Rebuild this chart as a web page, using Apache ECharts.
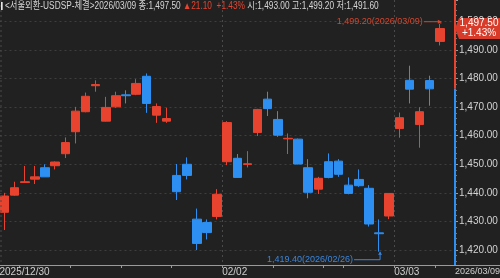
<!DOCTYPE html>
<html><head><meta charset="utf-8">
<script src="https://cdn.jsdelivr.net/npm/echarts@6/dist/echarts.min.js"></script>
<style>html,body{margin:0;padding:0;background:#212121;}#c{width:500px;height:278px;}</style>
</head><body><div id="c"></div>
<script>
// ---- data ----
const title = '<서울외환-USDSP-체결>';
const dates = ['2025/12/30','2026/01/02','2026/01/05','2026/01/06','2026/01/07','2026/01/08','2026/01/09',
 '2026/01/12','2026/01/13','2026/01/14','2026/01/15','2026/01/16','2026/01/19','2026/01/20','2026/01/21',
 '2026/01/22','2026/01/23','2026/01/26','2026/01/27','2026/01/28','2026/01/29','2026/01/30','2026/02/02',
 '2026/02/03','2026/02/04','2026/02/05','2026/02/06','2026/02/09','2026/02/10','2026/02/11','2026/02/12',
 '2026/02/13','2026/02/19','2026/02/20','2026/02/23','2026/02/24','2026/02/25','2026/02/26','2026/02/27',
 '2026/03/03','2026/03/04','2026/03/05','2026/03/06','2026/03/09'];
const opens  = [1433.2,1439.2,1443.6,1444.8,1448.8,1449.5,1453.7,1461.4,1468.4,1477.5,1465.1,1470.1,1474.3,1474.5,1480.8,1467.2,1465.1,1446.1,1450.0,1430.8,1429.6,1431.7,1450.9,1452.1,1449.9,1461.1,1472.8,1465.7,1458.9,1458.8,1448.8,1441.3,1450.9,1451.1,1442.7,1444.7,1441.6,1426.0,1431.9,1462.5,1479.4,1463.9,1479.3,1493.0];
const closes = [1438.9,1441.8,1443.9,1445.6,1445.6,1450.8,1457.6,1468.6,1473.8,1477.9,1469.9,1474.0,1474.0,1478.3,1471.3,1470.2,1466.0,1440.4,1446.1,1422.3,1426.1,1439.5,1464.6,1445.4,1450.2,1469.2,1469.5,1460.2,1459.1,1450.1,1440.2,1445.1,1445.4,1446.5,1439.8,1442.5,1429.1,1425.7,1439.8,1466.3,1476.3,1468.4,1476.4,1497.5];
const lows   = [1427.0,1439.0,1443.5,1443.1,1445.6,1448.2,1452.2,1457.3,1468.2,1475.4,1465.0,1469.8,1471.3,1474.2,1468.0,1464.5,1464.5,1437.5,1444.7,1420.0,1423.7,1430.7,1449.7,1445.2,1448.9,1459.9,1466.9,1459.6,1453.6,1450.0,1438.1,1439.6,1445.1,1445.6,1439.5,1442.1,1428.2,1419.4,1430.8,1459.3,1471.3,1455.8,1470.5,1491.6];
const highs  = [1440.0,1443.9,1449.4,1449.4,1450.0,1451.0,1459.4,1470.1,1475.1,1479.4,1473.6,1475.4,1475.9,1479.8,1481.8,1471.3,1469.8,1450.1,1452.4,1434.5,1430.7,1441.3,1465.1,1453.6,1454.6,1469.4,1475.4,1468.6,1460.8,1459.0,1451.8,1445.6,1453.8,1451.8,1445.4,1448.2,1442.7,1430.7,1439.9,1468.1,1484.5,1470.0,1481.0,1499.2];
const prevClose = 1476.4;

// ---- style ----
const RED = '#e8432f', BLUE = '#2d8ff2', TAG = '#d83b2a';
const FONT = "'Liberation Sans','Noto Sans CJK KR',sans-serif";
const Y_MIN = 1414.75, Y_MAX = 1507.5;

const fmt = v => Number(v).toLocaleString('en-US',{minimumFractionDigits:2,maximumFractionDigits:2});
const n = dates.length, last = n - 1;
const labelled = [];
let prevLab = -100;
dates.forEach((d,i)=>{
  const ms = i===0 || d.slice(5,7)!==dates[i-1].slice(5,7);
  const ok = ms && i - prevLab >= 6;
  labelled.push(ok);
  if (ok) prevLab = i;
});
const weekStart = dates.map((d,i)=> i===0 || new Date(d).getDay() <= new Date(dates[i-1]).getDay());
const chg = closes[last] - prevClose;
const pct = chg / prevClose * 100;

const chart = echarts.init(document.getElementById('c'), null, {renderer:'canvas'});
const option = {
  backgroundColor: '#212121',
  animation: false,
  grid: {left: -0.5, right: 45, top: 0, bottom: 13, containLabel: false, outerBoundsMode: 'none'},
  xAxis: [{
    type: 'category', data: dates.concat(['']), boundaryGap: true, show: false
  }, {
    type: 'category', position: 'bottom', offset: 0, boundaryGap: false,
    data: dates.concat(['', dates[last]]),
    axisLine: {show: true, lineStyle: {color: '#9a9a9a', width: 1}},
    axisTick: {show: true, length: 3, interval: i => i < n && weekStart[i], lineStyle: {color: '#9a9a9a'}},
    axisLabel: {
      show: true, align: 'left', margin: 2, color: '#cfcfcf', fontSize: 10, fontFamily: FONT,
      hideOverlap: false,
      interval: i => (i < n && labelled[i]) || i === n + 1,
      formatter: (v, i) => i === n + 1 ? '{e|' + v + '}' : (i === 0 ? v : v.slice(5)),
      rich: {e: {fontSize: 9, fontFamily: FONT, color: '#cfcfcf'}}
    },
    splitLine: {show: true, interval: i => i < n && labelled[i], lineStyle: {color: '#4a4a4a', type: [2, 3]}}
  }],
  yAxis: {
    type: 'value', position: 'right', min: Y_MIN, max: Y_MAX, splitNumber: 9,
    axisLine: {show: false},
    axisTick: {show: true, length: 3, lineStyle: {color: '#9a9a9a'}},
    minorTick: {show: true, splitNumber: 5, length: 2, lineStyle: {color: '#777'}},
    axisLabel: {color: '#d2d2d2', fontSize: 10, fontFamily: FONT, margin: 4,
      showMinLabel: false, showMaxLabel: false, formatter: v => fmt(v)},
    splitLine: {show: true, showMinLine: false, showMaxLine: false, lineStyle: {color: '#3e3e3e', type: [2, 3]}}
  },
  series: [{
    type: 'candlestick', xAxisIndex: 0, yAxisIndex: 0,
    data: opens.map((o,i)=>[o, closes[i], lows[i], highs[i]]),
    barWidth: 9,
    itemStyle: {color: RED, color0: BLUE, borderColor: RED, borderColor0: BLUE, borderWidth: 1},
    emphasis: {disabled: true}
  }]
};
chart.setOption(option);

// ---- overlays computed from data through the chart's scales ----
const P = (i, v) => chart.convertToPixel({xAxisIndex: 0, yAxisIndex: 0}, [i, v]);
const Y = v => chart.convertToPixel({yAxisIndex: 0}, v);
const xRight = chart.convertToPixel({xAxisIndex: 1}, n + 1);
const xLeft = chart.convertToPixel({xAxisIndex: 1}, 0);
const yTop = Y(Y_MAX), yBot = Y(Y_MIN), yPC = Y(prevClose), yC = Y(closes[last]);

let hi = 0, lo = 0;
highs.forEach((h,i)=>{ if (h > highs[hi]) hi = i; });
lows.forEach((l,i)=>{ if (l < lows[lo]) lo = i; });
const hp = P(hi, highs[hi]), lp = P(lo, lows[lo]);
const HCOL = '#d0472f', LCOL = '#3b86dc';
const AF = "9px " + FONT;

const headerText = '{bar|}{g| ' + title + dates[last] + ' 종:' + fmt(closes[last]) + ' }{r|▲' + fmt(chg) + '  ' + (pct>=0?'+':'') + pct.toFixed(2) + '%}{g| 시:' + fmt(opens[last]) + ' 고:' + fmt(highs[last]) + ' 저:' + fmt(lows[last]) + '}';

const g = [
  {type:'text', z:110, x: 1, y: 1, scaleX: 0.83, style:{text: headerText, font: "10px " + FONT, fill:'#d6d6d6',
    rich: {
      bar: {width: 2, height: 8, backgroundColor: '#e6e6e6'},
      g: {fill: '#d6d6d6', fontSize: 10, fontFamily: FONT},
      r: {fill: RED, fontSize: 10, fontFamily: FONT}
    }}},
  {type:'line', z:98, shape:{x1:xLeft+1.5, y1:yTop, x2:xLeft+1.5, y2:yBot}, style:{stroke:'#4a4a4a', lineWidth:1, lineDash:[2,3]}},
  {type:'line', z:100, shape:{x1:xRight, y1:yTop, x2:xRight, y2:yPC}, style:{stroke:RED, lineWidth:2}},
  {type:'line', z:100, shape:{x1:xRight, y1:yPC, x2:xRight, y2:yBot}, style:{stroke:BLUE, lineWidth:2}},
  {type:'line', z:99, shape:{x1:xRight, y1:yBot+0.5, x2:500, y2:yBot+0.5}, style:{stroke:'#9a9a9a', lineWidth:1}},
  {type:'polygon', z:101, shape:{points:[[xRight, yC],[xRight+4, yC-10.5],[500, yC-10.5],[500, yC+10.5],[xRight+4, yC+10.5]]}, style:{fill:TAG}},
  {type:'text', z:102, x: xRight + 24, y: yC - 5, style:{text: fmt(closes[last]), fill:'#fff', font:"10px " + FONT, align:'center', verticalAlign:'middle'}},
  {type:'text', z:102, x: xRight + 24, y: yC + 5, style:{text: (chg>=0?'+':'') + pct.toFixed(2) + '%', fill:'#fff', font:"10px " + FONT, align:'center', verticalAlign:'middle'}},
  {type:'text', z:102, x: hp[0] - 17, y: hp[1] - 2, style:{text: fmt(highs[hi]) + '(' + dates[hi] + ')', fill:HCOL, font:AF, align:'right', verticalAlign:'middle'}},
  {type:'polyline', z:102, shape:{points:[[hp[0]-16, hp[1]-2],[hp[0]+1, hp[1]-2],[hp[0]+1, hp[1]]]}, style:{stroke:HCOL, lineWidth:1, fill:null}},
  {type:'polygon', z:102, shape:{points:[[hp[0]-2, hp[1]-4],[hp[0]+2, hp[1]-2],[hp[0]-2, hp[1]]]}, style:{fill:HCOL}},
  {type:'text', z:102, x: lp[0] - 26, y: lp[1] + 8, style:{text: fmt(lows[lo]) + '(' + dates[lo] + ')', fill:LCOL, font:AF, align:'right', verticalAlign:'middle'}},
  {type:'polyline', z:102, shape:{points:[[lp[0]-25, lp[1]+8],[lp[0]+1, lp[1]+8],[lp[0]+1, lp[1]]]}, style:{stroke:LCOL, lineWidth:1, fill:null}},
  {type:'polygon', z:102, shape:{points:[[lp[0]-1, lp[1]+3],[lp[0]+1, lp[1]],[lp[0]+3, lp[1]+3]]}, style:{fill:LCOL}}
];
chart.setOption({graphic: g});
</script></body></html>
